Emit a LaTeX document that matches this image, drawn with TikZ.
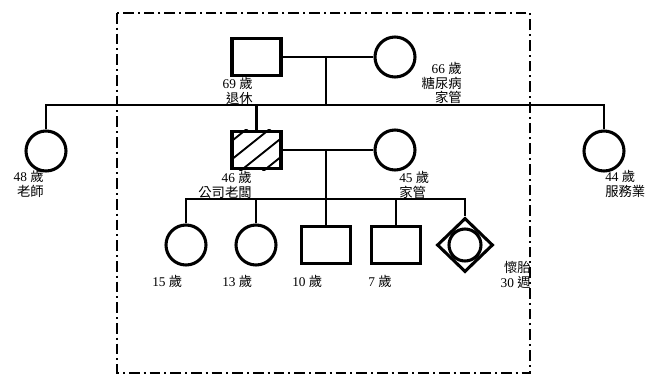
\documentclass[tikz,border=0pt]{standalone}
\usepackage{fontspec}
\setmainfont{Liberation Serif}
\newfontfamily\cjk{Noto Sans CJK TC}
\usetikzlibrary{shapes.geometric}
\begin{document}
\begin{tikzpicture}[x=0.75pt,y=-0.75pt,
  male/.style={draw,rectangle,line width=2.3pt,minimum width=36.75pt,minimum height=27.75pt,inner sep=0pt},
  female/.style={draw,circle,line width=2.3pt,minimum size=30pt,inner sep=0pt},
  fetus/.style={draw,diamond,line width=2.3pt,minimum width=42pt,minimum height=40.5pt,inner sep=0pt},
  fetusin/.style={draw,circle,line width=2.3pt,minimum size=24pt,inner sep=0pt},
  link/.style={line width=1.8pt},
  hatch/.style={line width=1.4pt},
  lab/.style={font=\fontsize{10}{11}\selectfont,inner sep=0pt},
  frame/.style={line width=1.6pt,dash pattern=on 8pt off 3pt on 1.5pt off 3pt}]
\useasboundingbox (0,0) rectangle (646,376);
% family frame
\draw[frame] (117,13) rectangle (530,373);
% grandparents
\node[male] (gf) at (256.5,57) {};
\node[female] (gm) at (395,57) {};
\coordinate (gc) at (326,57);
\coordinate (sb) at (326,105);
% aunts
\node[female] (a1) at (46,151) {};
\node[female] (a2) at (604,151) {};
% parents
\node[male] (fa) at (256.5,150) {};
\begin{scope}
  \clip (fa.south west) rectangle (fa.north east);
  \foreach \o in {0,23,46,69} {
    \draw[hatch] (233+\o,140) ++(-40,32) -- ++(80,-64);
  }
\end{scope}
\node[male] at (fa) {};
\node[female] (mo) at (395,150) {};
\coordinate (pc) at (326,150);
\coordinate (cl) at (326,199);
% children
\node[female] (c1) at (186,245) {};
\node[female] (c2) at (256,245) {};
\node[male] (c3) at (326,245) {};
\node[male] (c4) at (396,245) {};
\node[fetus] (c5) at (465,245) {};
\node[fetusin] (c5i) at (c5) {};
% connectors
\draw[link] (gf.east) -- (gm.west);
\draw[link] (gc) -- (sb);
\draw[link] (a1.north) |- (sb) -| (a2.north);
\draw[link] (fa.north) -- (fa.north |- sb);
\draw[link] (fa.east) -- (mo.west);
\draw[link] (pc) -- (cl);
\draw[link] (c1.north) |- (cl) -| (c5.north);
\draw[link] (c2.north) -- (c2.north |- cl);
\draw[link] (c3.north) -- (c3.north |- cl);
\draw[link] (c4.north) -- (c4.north |- cl);
% labels
\node[lab,anchor=north east,align=right] (gfl) at (253,77) {69 {\cjk 歲}\\{\cjk 退休}};
\node[lab,anchor=north east,align=right] (gml) at (462,62) {66 {\cjk 歲}\\{\cjk 糖尿病}\\{\cjk 家管}};
\node[lab,anchor=north east,align=right] (a1l) at (44,170) {48 {\cjk 歲}\\{\cjk 老師}};
\node[lab,anchor=north west,align=left] (a2l) at (605,170) {44 {\cjk 歲}\\{\cjk 服務業}};
\node[lab,anchor=north east,align=right] (fal) at (252,171) {46 {\cjk 歲}\\{\cjk 公司老闆}};
\node[lab,anchor=north west,align=left] (mol) at (399,171) {45 {\cjk 歲}\\{\cjk 家管}};
\node[lab,anchor=west] (c1l) at (152,281) {15 {\cjk 歲}};
\node[lab,anchor=west] (c2l) at (222,281) {13 {\cjk 歲}};
\node[lab,anchor=west] (c3l) at (292,281) {10 {\cjk 歲}};
\node[lab,anchor=west] (c4l) at (368,281) {7 {\cjk 歲}};
\node[lab,anchor=north east,align=right] (c5l) at (531,261) {{\cjk 懷胎}\\30 {\cjk 週}};
\end{tikzpicture}
\end{document}
